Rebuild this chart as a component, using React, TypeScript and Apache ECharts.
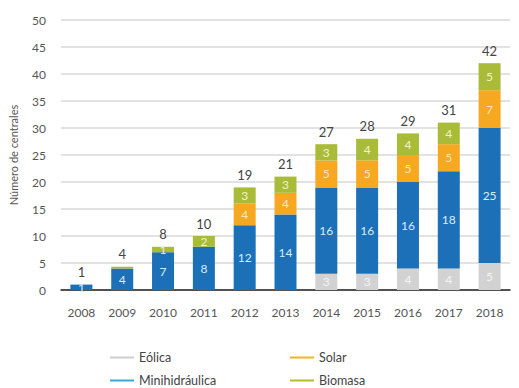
import React, { useEffect, useRef } from "react";
import * as echarts from "echarts";

const years = ["2008", "2009", "2010", "2011", "2012", "2013", "2014", "2015", "2016", "2017", "2018"];
const eolica = [0, 0, 0, 0, 0, 0, 3, 3, 4, 4, 5];
const minihidraulica = [1, 4, 7, 8, 12, 14, 16, 16, 16, 18, 25];
const solar = [0, 0, 0, 0, 4, 4, 5, 5, 5, 5, 7];
const biomasa = [0, 0.3, 1, 2, 3, 3, 3, 4, 4, 4, 5];
const totals = [1, 4, 8, 10, 19, 21, 27, 28, 29, 31, 42];
const yTicks = [0, 5, 10, 15, 20, 25, 30, 35, 40, 45, 50];

const colors = {
  eolica: "#d2d2d2",
  mini: "#1b70b8",
  solar: "#f5a820",
  biomasa: "#a9bb39",
};

const FONT = "Lato";

export default function App() {
  const ref = useRef<HTMLDivElement>(null);
  useEffect(() => {
    if (!ref.current) return;
    const chart = echarts.init(ref.current, null, { renderer: "svg" });
    const segLabel = (color: string) => ({
      show: true,
      position: "inside",
      color,
      fontSize: 12,
      fontFamily: FONT,
      formatter: (p: any) => (p.value >= 1 ? String(p.value) : ""),
    });
    const legendBase = {
      top: 351,
      height: 60,
      padding: 0,
      orient: "vertical",
      itemWidth: 24,
      itemHeight: 2,
      itemGap: 10,
      icon: "rect",
      textStyle: { color: "#444", fontSize: 12.5, fontFamily: FONT },
    };
    chart.setOption({
      animation: false,
      textStyle: { fontFamily: FONT },
      grid: { left: 59, right: 9, top: 20, bottom: 98 },
      legend: [
        {
          ...legendBase,
          left: 110,
          data: [
            { name: "Eólica", itemStyle: { color: "#cfcfcf" } },
            { name: "Minihidráulica", itemStyle: { color: "#3aa6dc" } },
          ],
        },
        {
          ...legendBase,
          left: 290,
          data: [
            { name: "Solar", itemStyle: { color: "#f2b41e" } },
            { name: "Biomasa", itemStyle: { color: "#b5bb2a" } },
          ],
        },
      ],
      xAxis: {
        type: "category",
        data: years,
        axisLine: { lineStyle: { color: "#222", width: 1.5 } },
        axisTick: { show: false },
        axisLabel: { color: "#555", fontSize: 12, margin: 16 },
      },
      yAxis: {
        type: "value",
        min: yTicks[0],
        max: yTicks[yTicks.length - 1],
        interval: 5,
        name: "Número de centrales",
        nameLocation: "middle",
        nameGap: 42,
        nameTextStyle: { color: "#555", fontSize: 11 },
        axisLine: { show: false },
        axisTick: { show: false },
        axisLabel: { color: "#555", fontSize: 12, margin: 15 },
        splitLine: { lineStyle: { color: "#d9d9d9", width: 1.5 } },
      },
      series: [
        {
          name: "Eólica",
          type: "bar",
          stack: "t",
          barWidth: 22,
          data: eolica,
          itemStyle: { color: colors.eolica },
          label: segLabel("#f4f4f4"),
        },
        {
          name: "Minihidráulica",
          type: "bar",
          stack: "t",
          data: minihidraulica,
          itemStyle: { color: colors.mini },
          label: segLabel("#dcecf8"),
        },
        {
          name: "Solar",
          type: "bar",
          stack: "t",
          data: solar,
          itemStyle: { color: colors.solar },
          label: segLabel("#fde9c0"),
        },
        {
          name: "Biomasa",
          type: "bar",
          stack: "t",
          data: biomasa,
          itemStyle: { color: colors.biomasa },
          label: segLabel("#f0f3c8"),
        },
        {
          name: "Total",
          type: "bar",
          stack: "t",
          data: totals.map(() => 0),
          itemStyle: { color: "transparent" },
          label: {
            show: true,
            position: "top",
            distance: 6,
            color: "#444",
            fontSize: 13,
            fontFamily: FONT,
            formatter: (p: any) => String(totals[p.dataIndex]),
          },
        },
      ],
    });
    return () => chart.dispose();
  }, []);
  return (
    <div
      ref={ref}
      style={{ position: "absolute", left: 0, top: 0, width: 519, height: 388 }}
    />
  );
}
